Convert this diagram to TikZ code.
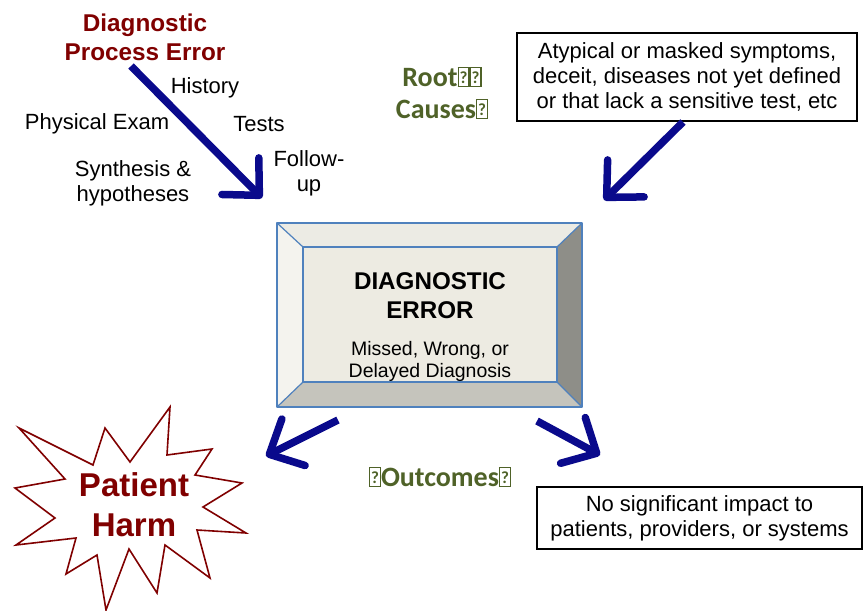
\documentclass[tikz,border=0pt]{standalone}
\usepackage{fontspec}
\setmainfont{Liberation Sans}
\newfontfamily\calibri{Carlito}
\usetikzlibrary{arrows.meta}
\definecolor{navyarrow}{RGB}{10,10,140}
\definecolor{harmred}{RGB}{128,0,0}
\definecolor{olivetext}{RGB}{79,98,40}
\definecolor{bevelline}{RGB}{79,129,189}
\definecolor{faceC}{RGB}{237,235,226}
\definecolor{topC}{RGB}{236,235,228}
\definecolor{leftC}{RGB}{244,243,238}
\definecolor{rightC}{RGB}{142,142,136}
\definecolor{bottomC}{RGB}{197,196,188}
% missing-glyph box as printed next to the green labels
\newcommand\tofu{{\fboxsep=0pt\fboxrule=1.2pt\framebox[12pt][c]{\rule{0pt}{18pt}\raisebox{3pt}{\fontsize{17}{17}\selectfont\bfseries ?}}}}
\tikzset{
  bigarrow/.style={draw=navyarrow, line width=7.5pt,
    -{Straight Barb[length=27pt,width=52pt,round]}},
  plain/.style={font=\fontsize{22}{25}\selectfont, align=center, inner sep=0pt},
  redhead/.style={font=\fontsize{24.3}{29}\selectfont\bfseries, text=harmred, align=center, inner sep=0pt},
  greenhead/.style={font=\calibri\fontsize{28}{32}\selectfont\bfseries, text=olivetext, align=center, inner sep=0pt},
  infobox/.style={draw=black, line width=1.4pt, minimum width=#1, inner sep=0pt, align=center,
    font=\fontsize{22}{25}\selectfont},
}
\begin{document}
\begin{tikzpicture}[x=1pt,y=-1pt]
\useasboundingbox (0,0) rectangle (863,611);

% process error heading and its steps
\node[redhead] (proc) at (145,37) {Diagnostic\\Process Error};
\node[plain] (hist) at (205,88) {History};
\node[plain] (phys) at (97,124) {Physical Exam};
\node[plain] (tests) at (259,124) {Tests};
\node[plain] (synth) at (133,183) {Synthesis \&\\hypotheses};
\node[plain] (follow) at (309,173) {Follow-\\up};

% root causes
\node[greenhead] (root) at (442,93) {Root\tofu\tofu\\Causes\tofu};
\node[infobox=340pt, minimum height=88pt] (causes) at (687,77)
  {Atypical or masked symptoms,\\deceit, diseases not yet defined\\or that lack a sensitive test, etc};

% central bevelled box
\coordinate (o1) at (277,223); \coordinate (o2) at (582,223);
\coordinate (o3) at (582,407); \coordinate (o4) at (277,407);
\coordinate (i1) at (303,247); \coordinate (i2) at (557,247);
\coordinate (i3) at (557,382); \coordinate (i4) at (303,382);
\fill[topC] (o1) -- (o2) -- (i2) -- (i1) -- cycle;
\fill[leftC] (o1) -- (i1) -- (i4) -- (o4) -- cycle;
\fill[rightC] (o2) -- (o3) -- (i3) -- (i2) -- cycle;
\fill[bottomC] (o4) -- (i4) -- (i3) -- (o3) -- cycle;
\fill[faceC] (i1) rectangle (i3);
\draw[bevelline, line width=1.5pt, line join=round] (o1) rectangle (o3);
\draw[bevelline, line width=1.5pt] (i1) rectangle (i3);
\draw[bevelline, line width=1.2pt] (o1) -- (i1) (o2) -- (i2) (o3) -- (i3) (o4) -- (i4);
\node[font=\fontsize{24.2}{29}\selectfont\bfseries, align=center, inner sep=0pt] (derr) at (430,296) {DIAGNOSTIC\\ERROR};
\node[font=\fontsize{19.5}{22}\selectfont, align=center, inner sep=0pt] (dsub) at (430,361) {Missed, Wrong, or\\Delayed Diagnosis};

% outcomes
\node[greenhead] (outc) at (440,477) {\tofu Outcomes\tofu};
\node[infobox=325pt, minimum height=62pt] (noimp) at (699.5,518)
  {No significant impact to\\patients, providers, or systems};

% patient harm starburst
\draw[harmred, line width=1.6pt, fill=white, line join=miter]
  (19,428) -- (93,465) -- (105,428) -- (130,462) -- (170,407) -- (167,455)
  -- (212,449) -- (195,475) -- (242,483) -- (203,507) -- (246,533) -- (197,530)
  -- (210,578) -- (165,545) -- (157,593) -- (129,549) -- (106,610) -- (97,555)
  -- (66,574) -- (76,538) -- (16,545) -- (55,518) -- (15,488) -- (65,479) -- cycle;
\node[font=\fontsize{33}{40}\selectfont\bfseries, text=harmred, align=center, inner sep=0pt] (harm) at (134,505) {Patient\\Harm};

% arrows
\coordinate (a1s) at (131,66);  \coordinate (a1e) at (262,198);
\coordinate (a2s) at (683,122); \coordinate (a2e) at (604,200);
\coordinate (a3s) at (338,420); \coordinate (a3e) at (266,456);
\coordinate (a4s) at (537,421); \coordinate (a4e) at (600,455);
\draw[bigarrow] (a1s) -- (a1e);
\draw[bigarrow] (a2s) -- (a2e);
\draw[bigarrow] (a3s) -- (a3e);
\draw[bigarrow] (a4s) -- (a4e);
\end{tikzpicture}
\end{document}
